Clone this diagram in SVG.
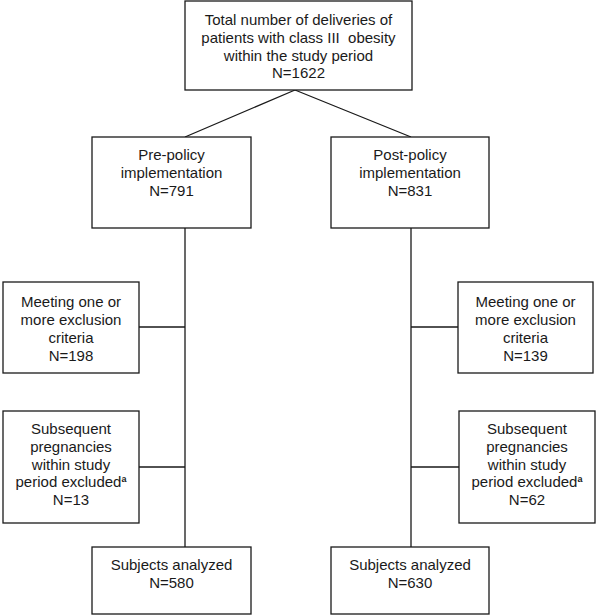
<svg xmlns="http://www.w3.org/2000/svg" width="600" height="615" viewBox="0 0 600 615">
<style>
.box{fill:#fff;stroke:#1a1a1a;stroke-width:1.3}
.ln{fill:none;stroke:#1a1a1a;stroke-width:1.3}
text{font-family:"Liberation Sans",Arial,sans-serif;font-size:15px;fill:#1a1a1a;text-anchor:middle}
.sup{font-size:9px;font-weight:bold}
</style>
<rect width="600" height="615" fill="#fff"/>
<g id="connectors">
<path class="ln" d="M295,90 L185,137 M295,90 L411,137"/>
<path class="ln" d="M185,228 V547 M139,327 H185 M139,467 H185"/>
<path class="ln" d="M411,228 V547 M411,327 H458 M411,467 H459"/>
</g>
<g id="total">
<rect class="box" x="185" y="1" width="227" height="89"/>
<text x="298.5" y="25">Total number of deliveries of</text>
<text x="298.5" y="43">patients with class III&#160; obesity</text>
<text x="298.5" y="60.5">within the study period</text>
<text x="298.5" y="78">N=1622</text>
</g>
<g id="pre">
<rect class="box" x="92" y="137" width="159" height="91"/>
<text x="171.5" y="160">Pre-policy</text>
<text x="171.5" y="178">implementation</text>
<text x="171.5" y="196">N=791</text>
</g>
<g id="post">
<rect class="box" x="331" y="137" width="158" height="91"/>
<text x="410" y="160">Post-policy</text>
<text x="410" y="178">implementation</text>
<text x="410" y="196">N=831</text>
</g>
<g id="excl-left">
<rect class="box" x="3" y="282" width="136" height="91"/>
<text x="71" y="307">Meeting one or</text>
<text x="71" y="325">more exclusion</text>
<text x="71" y="343">criteria</text>
<text x="71" y="361">N=198</text>
</g>
<g id="excl-right">
<rect class="box" x="458" y="282" width="135" height="91"/>
<text x="525.5" y="307">Meeting one or</text>
<text x="525.5" y="325">more exclusion</text>
<text x="525.5" y="343">criteria</text>
<text x="525.5" y="361">N=139</text>
</g>
<g id="subseq-left">
<rect class="box" x="3" y="411" width="136" height="112"/>
<text x="71" y="434">Subsequent</text>
<text x="71" y="452">pregnancies</text>
<text x="71" y="470">within study</text>
<text x="71" y="487">period excluded<tspan class="sup" dy="-5">a</tspan></text>
<text x="71" y="505">N=13</text>
</g>
<g id="subseq-right">
<rect class="box" x="459" y="411" width="136" height="112"/>
<text x="527" y="434">Subsequent</text>
<text x="527" y="452">pregnancies</text>
<text x="527" y="470">within study</text>
<text x="527" y="487">period excluded<tspan class="sup" dy="-5">a</tspan></text>
<text x="527" y="505">N=62</text>
</g>
<g id="analyzed-left">
<rect class="box" x="92" y="547" width="159" height="67"/>
<text x="171.5" y="570">Subjects analyzed</text>
<text x="171.5" y="588">N=580</text>
</g>
<g id="analyzed-right">
<rect class="box" x="331" y="547" width="158" height="67"/>
<text x="410" y="570">Subjects analyzed</text>
<text x="410" y="588">N=630</text>
</g>
</svg>
